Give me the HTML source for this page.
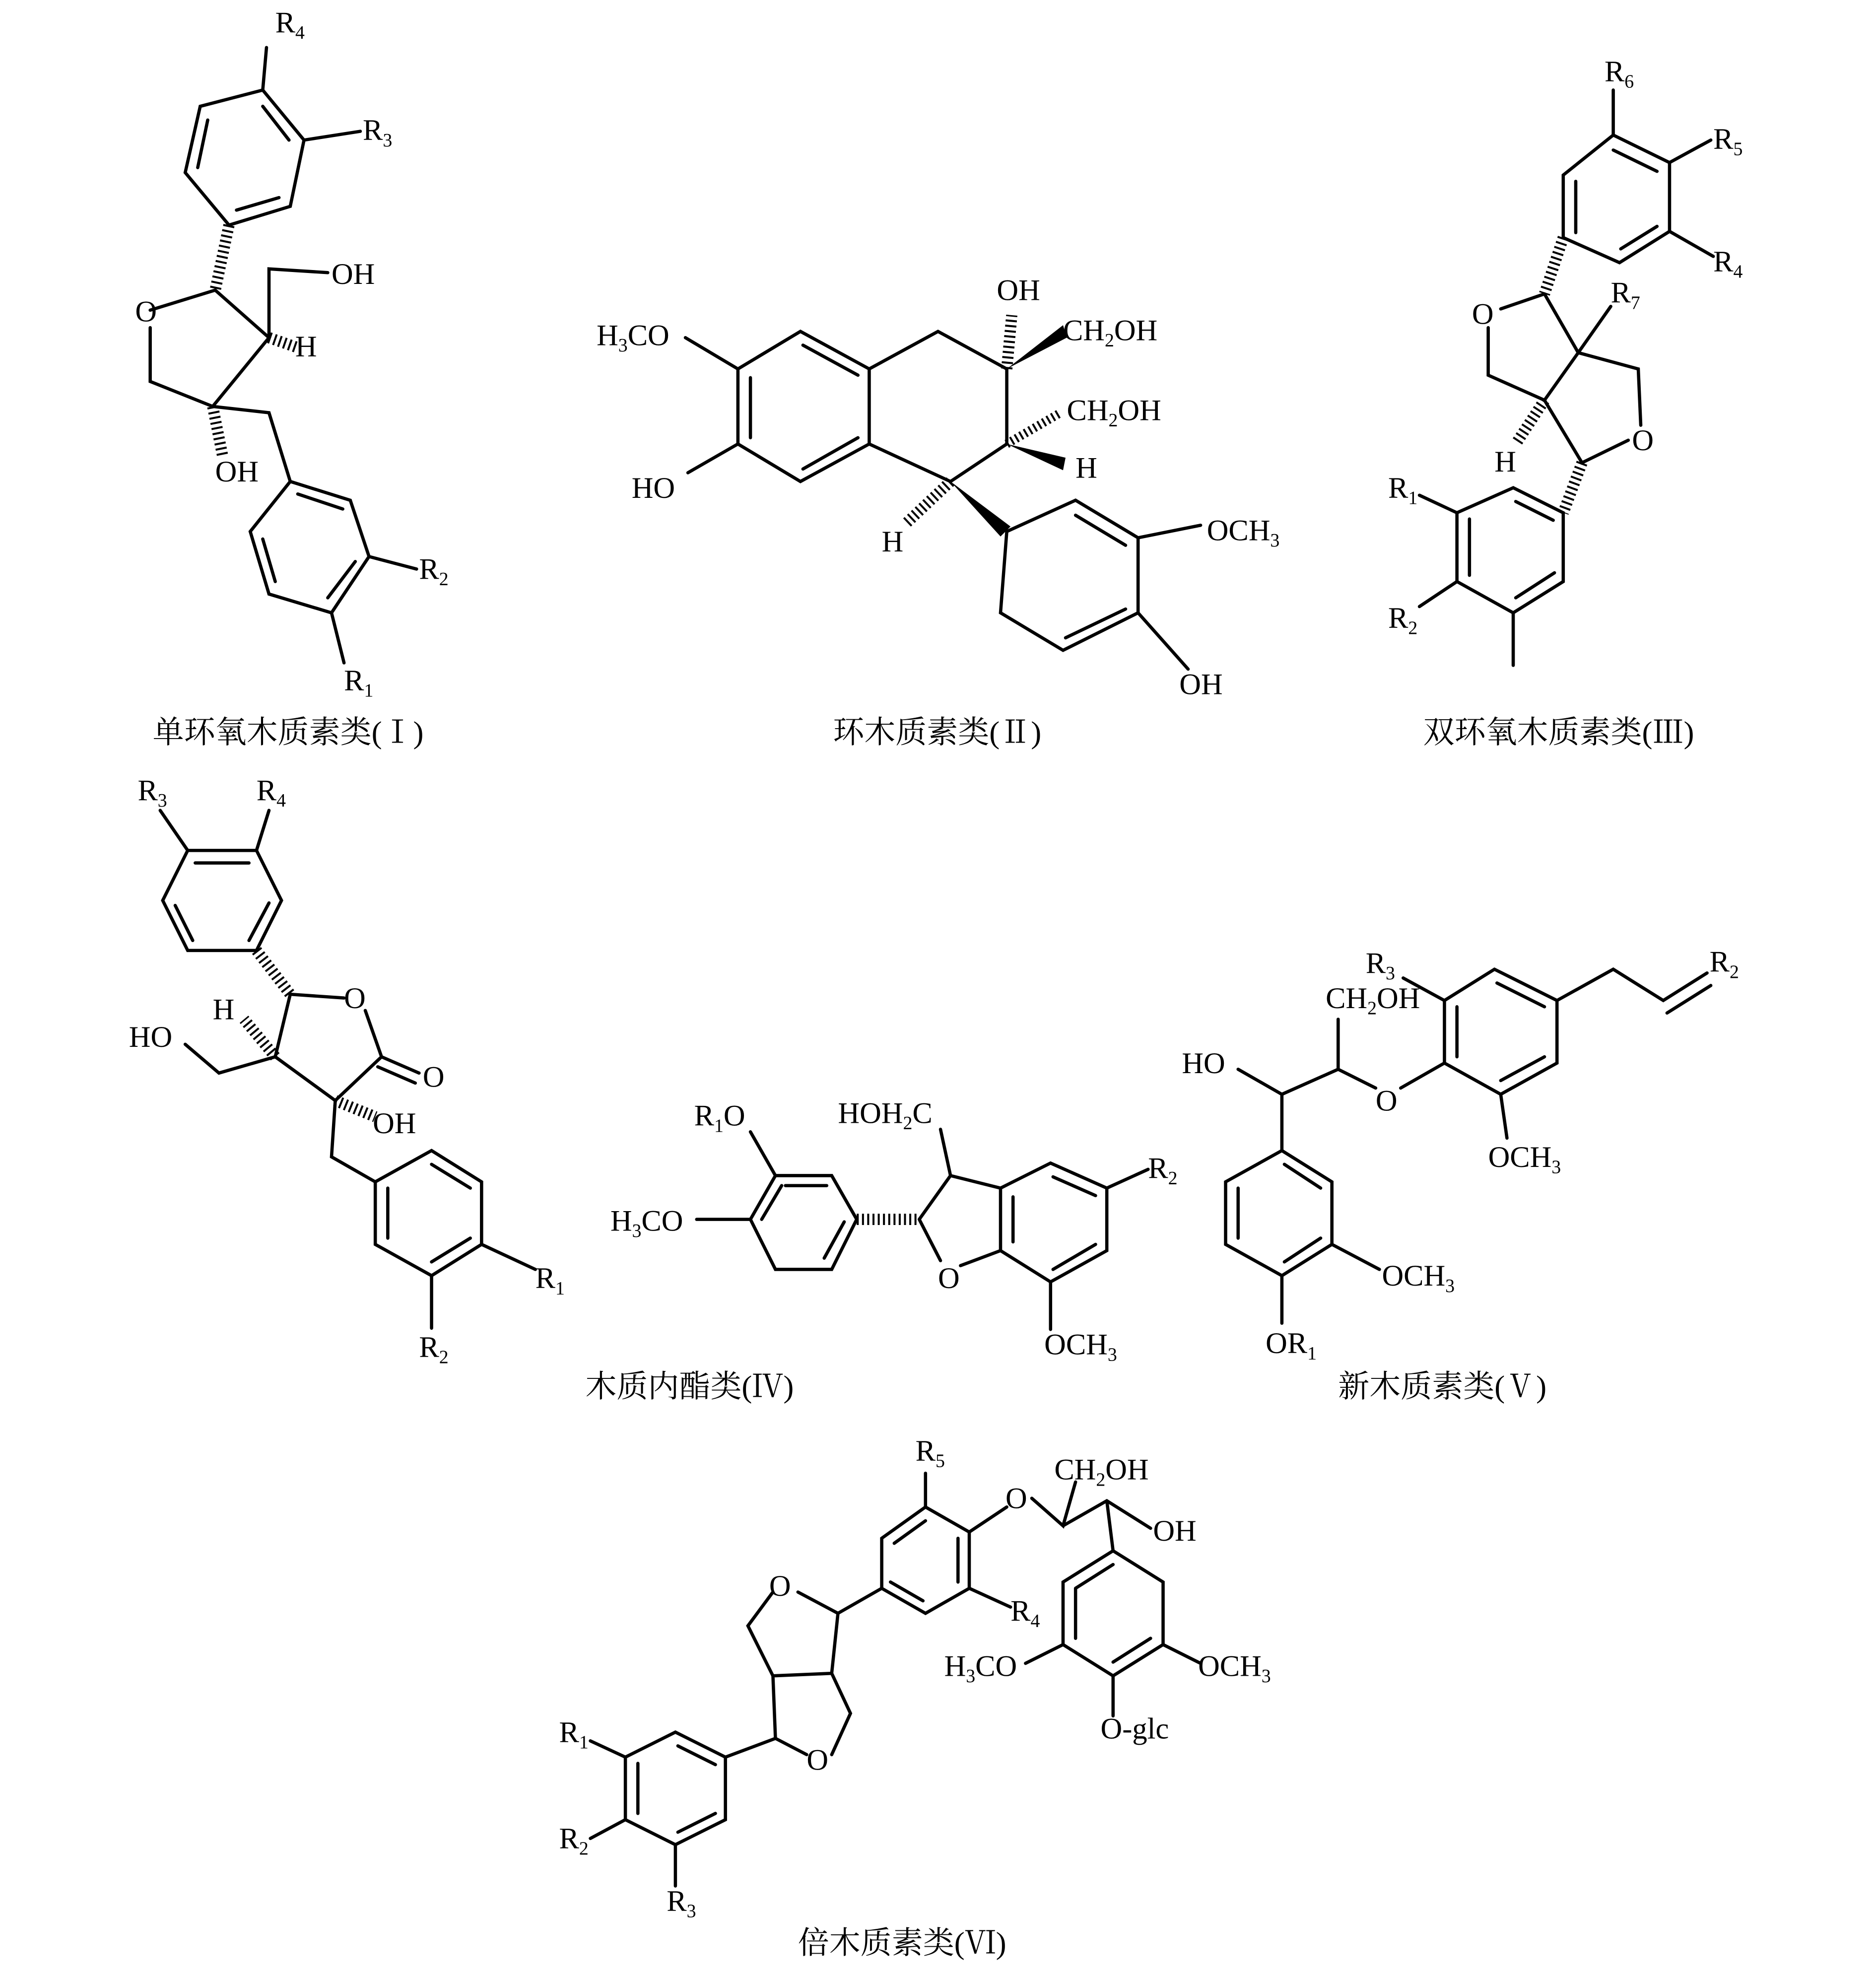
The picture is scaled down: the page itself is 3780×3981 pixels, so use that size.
<!DOCTYPE html>
<html><head><meta charset="utf-8"><style>
html,body{margin:0;padding:0;background:#fff;}
svg{display:block;}
text{font-family:"Liberation Serif","Noto Serif CJK SC",serif;font-size:24px;fill:#000;}
.cn{font-family:"Liberation Serif","Noto Serif CJK SC","Noto Sans CJK SC",serif;font-size:25px;}
</style></head><body>
<svg width="3780" height="3981" viewBox="0 0 1500 1580" xmlns="http://www.w3.org/2000/svg">
<g stroke="#000" stroke-width="2.6" fill="none" stroke-linecap="round">
<!-- Structure I -->
<path d="M148,138 L160,85 L210,72 L243,112 L232,165 L183,180 Z"/>
<path d="M158,134 L166,96 M210,85 L231,112 M223,158 L189,168"/>
<path d="M210,72 L213,38 M243,112 L288,105"/>
<path d="M172,232 L120,248 M120,262 L120,305 L170,325 L215,270 L172,232 M215,270 L215,215 L262,218 M170,325 L215,330 L232,385"/>
<path d="M232,385 L280,400 L295,445 L265,490 L215,475 L200,425 Z"/>
<path d="M238,395 L274,407 M284,449 L262,478 M220,465 L210,431"/>
<path d="M295,445 L333,455 M265,490 L275,530"/>
<!-- Structure II -->
<path d="M590,295 L640,265 L695,295 L695,355 L640,385 L590,355 Z"/>
<path d="M642,276 L686,300 M600,302 L600,350 M686,350 L642,375"/>
<path d="M695,295 L750,265 L805,295 L805,355 L760,385 L695,355"/>
<path d="M590,295 L548,270 M590,355 L550,378"/>
<path d="M805,425 L860,400 L910,430 L910,490 L850,520 L800,490 Z"/>
<path d="M860,412 L900,436 M900,487 L852,510"/>
<path d="M910,430 L960,420 M910,490 L950,535"/>
<!-- Structure III -->
<path d="M1250,140 L1290,108 L1335,130 L1335,185 L1295,210 L1250,190 Z"/>
<path d="M1290,120 L1325,137 M1325,181 L1296,199 M1260,186 L1260,145"/>
<path d="M1290,108 L1290,72 M1335,130 L1368,112 M1335,185 L1370,205"/>
<path d="M1235,235 L1200,247 M1190,262 L1190,300 L1235,320 L1262,282 L1235,235 M1262,282 L1310,295 L1312,340 M1302,352 L1265,370 L1235,320 M1262,282 L1288,245"/>
<path d="M1250,410 L1210,390 L1165,410 L1165,465 L1210,490 L1250,465 Z"/>
<path d="M1212,401 L1242,416 M1175,415 L1175,460 M1243,458 L1212,478"/>
<path d="M1165,410 L1135,396 M1165,465 L1135,485 M1210,490 L1210,532"/>
<!-- Structure IV left (lactone) -->
<path d="M150,680 L205,680 L225,720 L205,760 L150,760 L130,720 Z"/>
<path d="M156,690 L199,690 M215,722 L199,752 M154,752 L140,724"/>
<path d="M150,680 L128,648 M205,680 L215,648"/>
<path d="M232,795 L275,798 M292,808 L305,845 L268,880 L220,845 L232,795 M305,845 L335,858 M302,853 L332,866 M220,845 L175,858 L148,835 M268,880 L265,925 L300,945"/>
<path d="M300,945 L345,920 L385,945 L385,995 L345,1020 L300,995 Z"/>
<path d="M345,931 L376,950 M376,990 L345,1009 M310,990 L310,950"/>
<path d="M385,995 L428,1015 M345,1020 L345,1062"/>
<!-- Structure IV middle -->
<path d="M600,975 L620,940 L665,940 L685,975 L665,1015 L620,1015 Z"/>
<path d="M628,948 L661,948 M675,977 L659,1006 M609,975 L625,948"/>
<path d="M620,940 L600,905 M600,975 L557,975"/>
<path d="M735,975 L760,940 L800,950 M760,940 L752,903 M735,975 L752,1008 M768,1012 L800,1000"/>
<path d="M800,950 L840,930 L885,950 L885,1000 L840,1025 L800,1000 Z"/>
<path d="M810,957 L810,993 M842,941 L876,956 M876,995 L842,1015"/>
<path d="M885,950 L918,935 M840,1025 L840,1063"/>
<!-- Structure V -->
<path d="M1155,800 L1195,775 L1245,800 L1245,850 L1200,875 L1155,850 Z"/>
<path d="M1197,786 L1235,805 M1235,845 L1200,864 M1165,845 L1165,805"/>
<path d="M1155,800 L1122,782 M1245,800 L1290,775 L1330,800 L1365,778 M1333,810 L1368,788"/>
<path d="M1200,875 L1205,910 M1155,850 L1120,870 M1100,870 L1070,855 L1070,815 M1070,855 L1025,875 L990,855 M1025,875 L1025,920"/>
<path d="M1025,920 L1065,945 L1065,995 L1025,1020 L980,995 L980,945 Z"/>
<path d="M1027,931 L1056,950 M1056,990 L1027,1009 M990,990 L990,950"/>
<path d="M1065,995 L1103,1015 M1025,1020 L1025,1058"/>
<!-- Structure VI -->
<path d="M705,1230 L740,1205 L775,1225 L775,1270 L740,1290 L705,1270 Z"/>
<path d="M715,1234 L740,1216 M766,1230 L766,1265 M738,1280 L712,1265"/>
<path d="M740,1205 L740,1178 M775,1225 L805,1205 M775,1270 L808,1285 M705,1270 L670,1290"/>
<path d="M670,1290 L638,1273 M618,1273 L598,1300 L618,1340 L665,1338 L670,1290 M618,1340 L620,1390 L645,1403 M665,1403 L680,1370 L665,1338"/>
<path d="M620,1390 L580,1405"/>
<path d="M580,1405 L540,1385 L500,1405 L500,1455 L540,1475 L580,1455 Z"/>
<path d="M542,1396 L572,1411 M510,1410 L510,1450 M572,1450 L542,1465"/>
<path d="M500,1405 L472,1392 M500,1455 L472,1470 M540,1475 L540,1508"/>
<path d="M825,1198 L850,1220 L860,1185 M850,1220 L885,1200 L920,1222 M885,1200 L890,1240"/>
<path d="M850,1265 L890,1240 L930,1265 L930,1315 L890,1340 L850,1315 Z"/>
<path d="M860,1270 L890,1251 M920,1310 L890,1329 M860,1310 L860,1270"/>
<path d="M850,1315 L820,1330 M930,1315 L960,1330 M890,1340 L890,1372"/>
</g>
<!-- hashed bonds -->
<g stroke="#000" stroke-width="9" fill="none" stroke-dasharray="1.6,2.6">
<path d="M183,180 L172,232"/>
<path d="M215,270 L238,278"/>
<path d="M170,325 L178,365"/>
<path d="M805,295 L809,252"/>
<path d="M760,385 L725,418"/>
<path d="M1250,190 L1235,235"/>
<path d="M1235,320 L1212,355"/>
<path d="M1265,370 L1250,410"/>
<path d="M205,760 L232,795"/>
<path d="M220,845 L195,815"/>
<path d="M268,880 L300,893"/>
<path d="M685,975 L735,975"/>
</g>
<g stroke="#000" stroke-width="7" fill="none" stroke-dasharray="1.6,2.6">
<path d="M805,355 L848,330"/>
</g>
<!-- wedges -->
<g fill="#000">
<polygon points="805,295 850,260 853,270"/>
<polygon points="805,355 852,366 850,376"/>
<polygon points="760,385 808,421 800,429"/>
</g>
<!-- labels -->
<text x="220" y="26">R<tspan font-size="15" dy="5">4</tspan></text>
<text x="290" y="112">R<tspan font-size="15" dy="5">3</tspan></text>
<text x="265" y="227">OH</text>
<text x="108" y="257">O</text>
<text x="236" y="285">H</text>
<text x="172" y="385">OH</text>
<text x="335" y="463">R<tspan font-size="15" dy="5">2</tspan></text>
<text x="275" y="552">R<tspan font-size="15" dy="5">1</tspan></text>
<text class="cn" x="122" y="594">单环氧木质素类(Ⅰ)</text>

<text x="477" y="276">H<tspan font-size="15" dy="5">3</tspan><tspan dy="-5">CO</tspan></text>
<text x="505" y="398">HO</text>
<text x="797" y="240">OH</text>
<text x="850" y="272">CH<tspan font-size="15" dy="5">2</tspan><tspan dy="-5">OH</tspan></text>
<text x="853" y="336">CH<tspan font-size="15" dy="5">2</tspan><tspan dy="-5">OH</tspan></text>
<text x="860" y="382">H</text>
<text x="705" y="441">H</text>
<text x="965" y="432">OCH<tspan font-size="15" dy="5">3</tspan></text>
<text x="943" y="555">OH</text>
<text class="cn" x="666" y="594">环木质素类(Ⅱ)</text>

<text x="1283" y="65">R<tspan font-size="15" dy="5">6</tspan></text>
<text x="1370" y="119">R<tspan font-size="15" dy="5">5</tspan></text>
<text x="1370" y="217">R<tspan font-size="15" dy="5">4</tspan></text>
<text x="1288" y="242">R<tspan font-size="15" dy="5">7</tspan></text>
<text x="1177" y="259">O</text>
<text x="1305" y="360">O</text>
<text x="1195" y="377">H</text>
<text x="1110" y="398">R<tspan font-size="15" dy="5">1</tspan></text>
<text x="1110" y="502">R<tspan font-size="15" dy="5">2</tspan></text>
<text class="cn" x="1138" y="594">双环氧木质素类(Ⅲ)</text>

<text x="110" y="640">R<tspan font-size="15" dy="5">3</tspan></text>
<text x="205" y="640">R<tspan font-size="15" dy="5">4</tspan></text>
<text x="275" y="806">O</text>
<text x="170" y="815">H</text>
<text x="103" y="837">HO</text>
<text x="338" y="869">O</text>
<text x="298" y="906">OH</text>
<text x="428" y="1030">R<tspan font-size="15" dy="5">1</tspan></text>
<text x="335" y="1085">R<tspan font-size="15" dy="5">2</tspan></text>
<text class="cn" x="468" y="1117">木质内酯类(Ⅳ)</text>

<text x="555" y="900">R<tspan font-size="15" dy="5">1</tspan><tspan dy="-5">O</tspan></text>
<text x="670" y="898">HOH<tspan font-size="15" dy="5">2</tspan><tspan dy="-5">C</tspan></text>
<text x="488" y="984">H<tspan font-size="15" dy="5">3</tspan><tspan dy="-5">CO</tspan></text>
<text x="750" y="1030">O</text>
<text x="918" y="942">R<tspan font-size="15" dy="5">2</tspan></text>
<text x="835" y="1083">OCH<tspan font-size="15" dy="5">3</tspan></text>

<text x="1092" y="778">R<tspan font-size="15" dy="5">3</tspan></text>
<text x="1060" y="806">CH<tspan font-size="15" dy="5">2</tspan><tspan dy="-5">OH</tspan></text>
<text x="1367" y="777">R<tspan font-size="15" dy="5">2</tspan></text>
<text x="945" y="858">HO</text>
<text x="1100" y="888">O</text>
<text x="1190" y="933">OCH<tspan font-size="15" dy="5">3</tspan></text>
<text x="1105" y="1028">OCH<tspan font-size="15" dy="5">3</tspan></text>
<text x="1012" y="1082">OR<tspan font-size="15" dy="5">1</tspan></text>
<text class="cn" x="1070" y="1117">新木质素类(Ⅴ)</text>

<text x="732" y="1168">R<tspan font-size="15" dy="5">5</tspan></text>
<text x="843" y="1183">CH<tspan font-size="15" dy="5">2</tspan><tspan dy="-5">OH</tspan></text>
<text x="804" y="1206">O</text>
<text x="922" y="1232">OH</text>
<text x="615" y="1276">O</text>
<text x="808" y="1296">R<tspan font-size="15" dy="5">4</tspan></text>
<text x="755" y="1340">H<tspan font-size="15" dy="5">3</tspan><tspan dy="-5">CO</tspan></text>
<text x="958" y="1340">OCH<tspan font-size="15" dy="5">3</tspan></text>
<text x="880" y="1390">O-glc</text>
<text x="645" y="1415">O</text>
<text x="447" y="1393">R<tspan font-size="15" dy="5">1</tspan></text>
<text x="447" y="1478">R<tspan font-size="15" dy="5">2</tspan></text>
<text x="533" y="1528">R<tspan font-size="15" dy="5">3</tspan></text>
<text class="cn" x="638" y="1562">倍木质素类(Ⅵ)</text>
</svg>
</body></html>
